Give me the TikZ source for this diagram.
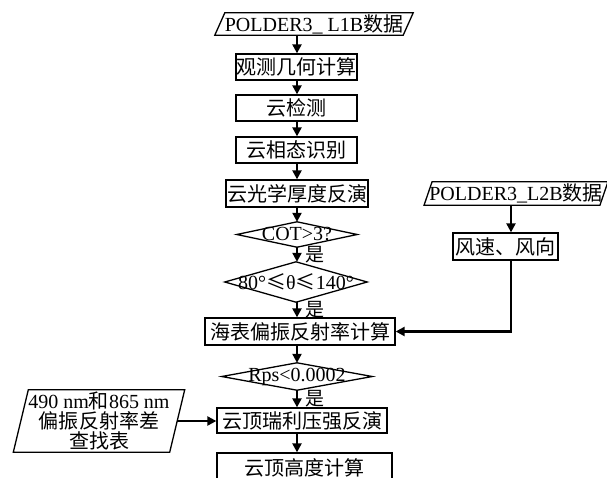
\documentclass[tikz,border=0pt]{standalone}
\usepackage{fontspec}
\setmainfont{Liberation Serif}
\newfontfamily\cjk{Noto Sans CJK SC}
\usetikzlibrary{arrows.meta}
\begin{document}
\begin{tikzpicture}[x=1pt,y=-1pt,
  every node/.style={font=\fontsize{20}{20}\selectfont, inner sep=0pt, align=center},
  box/.style={draw, line width=1.3pt},
  frame/.style={line width=1.3pt, line join=miter},
  arr/.style={line width=2.2pt, -{Triangle[length=9pt,width=9pt]}},
  yes/.style={font=\cjk\fontsize{19}{19}\selectfont}
]
\useasboundingbox (0,0) rectangle (607,477);
\clip (0,0) rectangle (607,477);
\fill[white] (0,0) rectangle (607,477);
\coordinate (sp) at (297,0);
\coordinate (rx) at (511,0);

% input parallelogram L1B
\node[minimum width=188pt, minimum height=22pt] (p1) at (314,24) {POLDER3\_ L1B{\cjk 数据}};
\draw[frame] ([xshift=-5pt]p1.south west) -- ([xshift=5pt]p1.north west) -- ([xshift=5pt]p1.north east) -- ([xshift=-5pt]p1.south east) -- cycle;

\node[box, minimum width=121pt, minimum height=26pt] (b2) at (296.5,67) {\cjk 观测几何计算};
\node[box, minimum width=121pt, minimum height=26pt] (b3) at (296.5,108) {\cjk 云检测};
\node[box, minimum width=121pt, minimum height=26pt] (b4) at (296.5,150) {\cjk 云相态识别};
\node[box, minimum width=142pt, minimum height=27pt] (b5) at (297,193.5) {\cjk 云光学厚度反演};

\node[minimum width=120pt, minimum height=25pt] (d1) at (297,234.5) {COT>3?};
\draw[frame] (d1.north) -- (d1.east) -- (d1.south) -- (d1.west) -- cycle;
\node[minimum width=142pt, minimum height=40pt] (d2) at (296,282) {80°{\cjk ≤}θ{\cjk ≤}140°};
\draw[frame] (d2.north) -- (d2.east) -- (d2.south) -- (d2.west) -- cycle;

\node[box, minimum width=190pt, minimum height=27pt] (b6) at (300,331.5) {\cjk 海表偏振反射率计算};

\node[minimum width=150pt, minimum height=27pt] (d3) at (297,376.5) {Rps<0.0002};
\draw[frame] (d3.north) -- (d3.east) -- (d3.south) -- (d3.west) -- cycle;

\node[box, minimum width=170pt, minimum height=25pt] (b7) at (302,420.5) {\cjk 云顶瑞利压强反演};
\node[box, minimum width=175pt, minimum height=30pt] (b8) at (304.5,468) {\cjk 云顶高度计算};

% left lookup table parallelogram
\node[minimum width=156pt, minimum height=62pt, font=\fontsize{20}{20}\selectfont] (p3) at (99,421) {490 nm{\cjk 和}865 nm\\{\cjk 偏振反射率差}\\{\cjk 查找表}};
\draw[frame] ([xshift=-7.5pt]p3.south west) -- ([xshift=7.5pt]p3.north west) -- ([xshift=7.5pt]p3.north east) -- ([xshift=-7.5pt]p3.south east) -- cycle;

% right input parallelogram L2B
\node[minimum width=175.5pt, minimum height=23pt] (p2) at (516,193.5) {POLDER3\_L2B{\cjk 数据}};
\draw[frame] ([xshift=-4pt]p2.south west) -- ([xshift=4pt]p2.north west) -- ([xshift=4pt]p2.north east) -- ([xshift=-4pt]p2.south east) -- cycle;
\node[box, minimum width=105pt, minimum height=27pt] (b9) at (505.5,246.5) {\cjk 风速、风向};

% yes labels
\node[yes] (y1) at (315,255) {是};
\node[yes] (y2) at (315,310) {是};
\node[yes] (y3) at (315,399) {是};

% main chain arrows
\draw[arr] (p1.south -| sp) -- (b2.north -| sp);
\draw[arr] (b2.south -| sp) -- (b3.north -| sp);
\draw[arr] (b3.south -| sp) -- (b4.north -| sp);
\draw[arr] (b4.south -| sp) -- (b5.north -| sp);
\draw[arr] (b5.south -| sp) -- (d1.north -| sp);
\draw[arr] (d1.south -| sp) -- (d2.north -| sp);
\draw[arr] (d2.south -| sp) -- (b6.north -| sp);
\draw[arr] (b6.south -| sp) -- (d3.north -| sp);
\draw[arr] (d3.south -| sp) -- (b7.north -| sp);
\draw[arr] (b7.south -| sp) -- (b8.north -| sp);

% side arrows
\draw[arr] (p3.east) -- (b7.west |- p3.east);
\draw[arr] (p2.south -| rx) -- (b9.north -| rx);
\draw[arr] (b9.south -| rx) -- (rx |- b6.east) -- (b6.east);
\end{tikzpicture}
\end{document}
